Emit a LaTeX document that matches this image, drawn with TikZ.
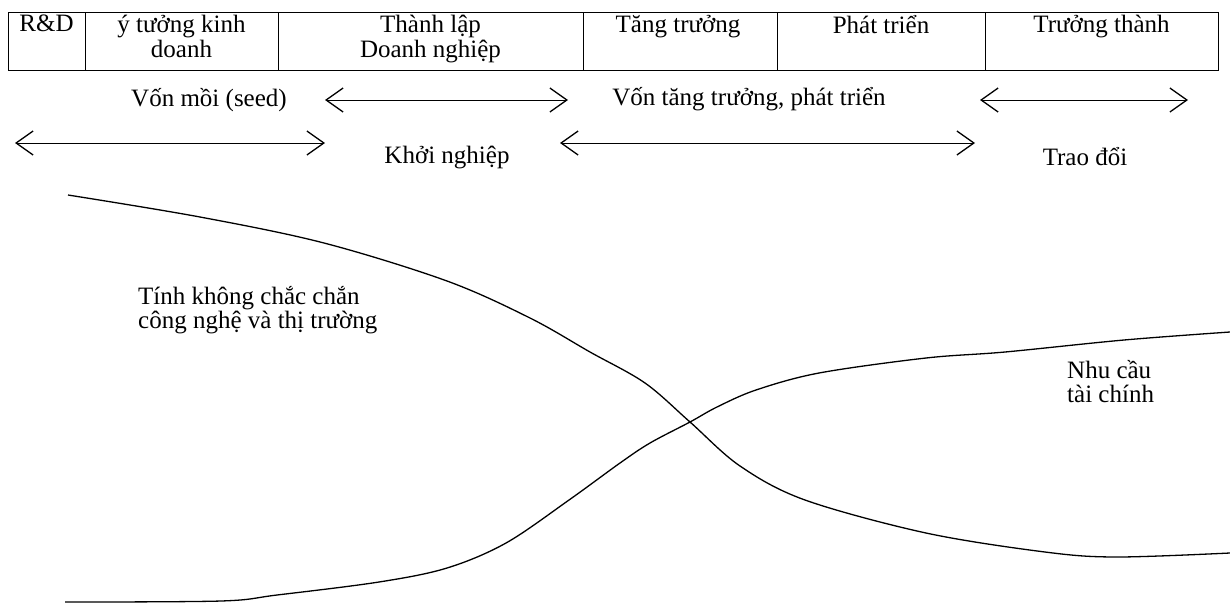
\documentclass[tikz,border=0pt]{standalone}
\usepackage{fontspec}
\setmainfont{Liberation Serif}
\usetikzlibrary{arrows.meta}
\tikzstyle{hcell} = [anchor=north,align=center,inner sep=0pt]
\tikzstyle{label} = [inner sep=0pt]
\tikzstyle{span} = [line width=1pt,{Straight Barb[length=17pt,width=24pt,line width=1.3pt]}-{Straight Barb[length=17pt,width=24pt,line width=1.3pt]}]
\tikzstyle{curve} = [line width=1.3pt,smooth,tension=0.55]

\begin{document}
\begin{tikzpicture}[x=1pt,y=-1pt,font=\fontsize{25}{24.5}\selectfont]
    \useasboundingbox (0,0) rectangle (1230,603);

    % stage table
    \draw[line width=1pt] (8,12) rectangle (1218,70);
    \foreach \x in {85,278,583,777,985}
     \draw[line width=1pt] (\x,12) -- (\x,70);
    \node[hcell] (rd)          at (46.5,15)  {R\&D};
    \node[hcell] (ytuong)      at (181.5,15) {ý tưởng kinh\\doanh};
    \node[hcell] (thanhlap)    at (430.5,15) {Thành lập\\Doanh nghiệp};
    \node[hcell] (tangtruong)  at (678,15)   {Tăng trưởng};
    \node[hcell] (phattrien)   at (881,15)   {Phát triển};
    \node[hcell] (truongthanh) at (1101.5,15) {Trưởng thành};

    % financing spans
    \node[label] (vonmoi)  at (209,100) {Vốn mồi (seed)};
    \node[label] (vontang) at (749,99)  {Vốn tăng trưởng, phát triển};
    \node[label] (khoi)    at (447,157) {Khởi nghiệp};
    \node[label] (traodoi) at (1085,157) {Trao đổi};
    \coordinate (khoi w)    at (325,100); \coordinate (khoi e)    at (568,100);
    \coordinate (traodoi w) at (980,100); \coordinate (traodoi e) at (1188,100);
    \coordinate (vonmoi w)  at (15,143);  \coordinate (vonmoi e)  at (325,143);
    \coordinate (vontang w) at (560,143); \coordinate (vontang e) at (975,143);
    \draw[span] (khoi w) -- (khoi e);
    \draw[span] (traodoi w) -- (traodoi e);
    \draw[span] (vonmoi w) -- (vonmoi e);
    \draw[span] (vontang w) -- (vontang e);

    % curves
    \draw[curve] plot coordinates {(68,195) (200,217) (324,243) (447,281) (530,318) (590,352) (645,383) (690,422) (740,466) (805,500) (926,533) (1045,552) (1116,557) (1230,553)};
    \draw[curve] plot coordinates {(65,602) (221,601) (277,595) (379,582) (447,568) (506,543) (569,500) (620,463) (650,443) (690,422) (717,407) (756,390) (819,373) (926,358) (1005,352) (1124,340) (1230,332)};
    \node[label,anchor=north west,align=left] (batdinh) at (138,286) {Tính không chắc chắn\\công nghệ và thị trường};
    \node[label,anchor=north west,align=left] (nhucau)  at (1067,360) {Nhu cầu\\tài chính};
\end{tikzpicture}
\end{document}
